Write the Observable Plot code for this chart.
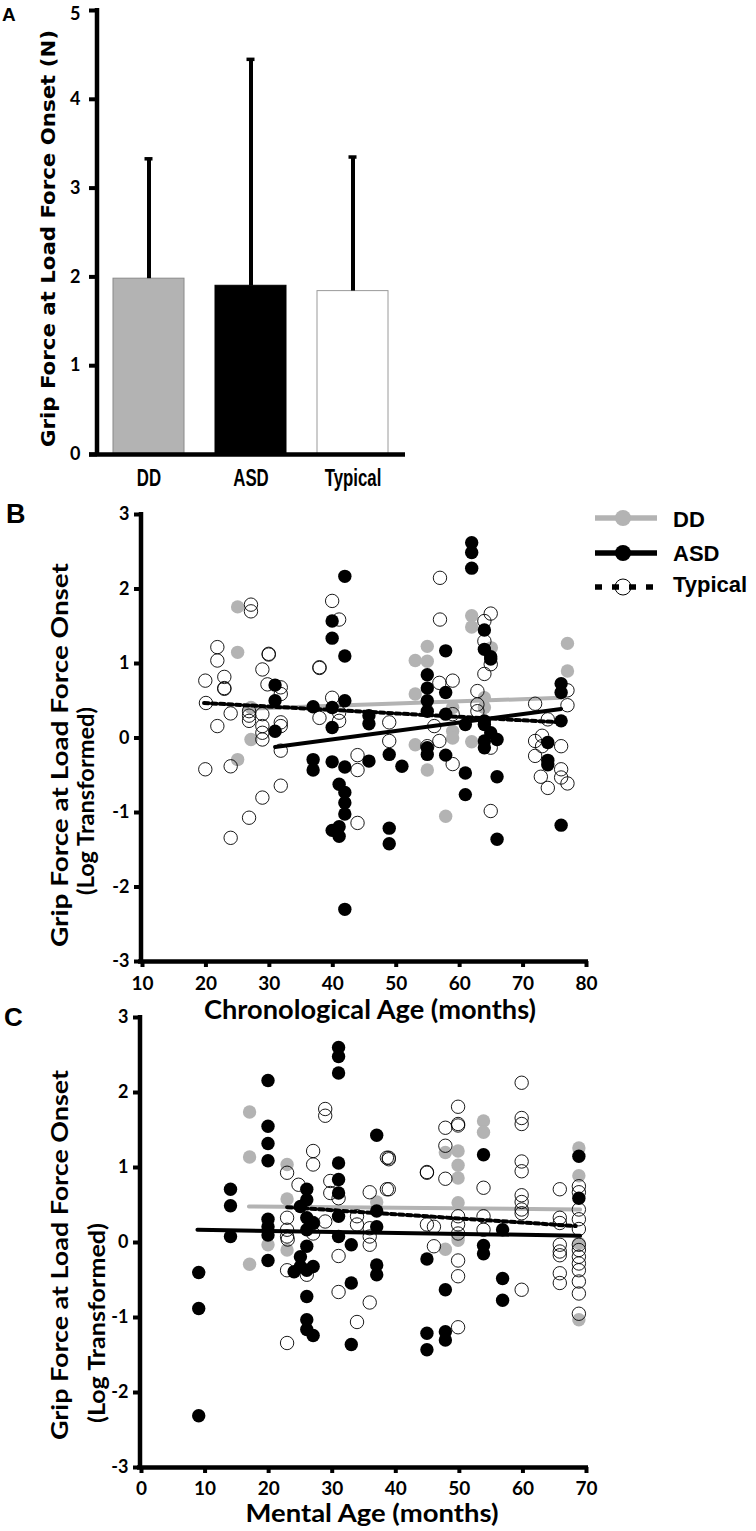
<!DOCTYPE html>
<html><head><meta charset="utf-8">
<script src="https://cdn.jsdelivr.net/npm/d3@7"></script>
<script src="https://cdn.jsdelivr.net/npm/@observablehq/plot@0.6"></script>
<style>
body{margin:0;background:#fff;}
#root{position:relative;width:756px;height:1531px;overflow:hidden;background:#fff;}
.panel{position:absolute;left:0;}
</style></head><body><div id="root"></div>
<script>
// ---------------- DATA ----------------
const groups = ["DD", "ASD", "Typical"];
const barMeans = [1.98, 1.90, 1.84];
const barSDs = [1.35, 2.55, 1.51];
const yTicksA = [0, 1, 2, 3, 4, 5];
const yTicksBC = [-3, -2, -1, 0, 1, 2, 3];
const xTicksB = [10, 20, 30, 40, 50, 60, 70, 80];
const xTicksC = [0, 10, 20, 30, 40, 50, 60, 70];

// Panel B: [chronological age (months), log grip force]
const ddChrono = [[25,1.76],[25,1.15],[27.1,0.41],[27.1,-0.02],[25,-0.29],[61.9,1.64],[61.9,1.49],[54.9,1.23],[53,1.04],[54.9,1.03],[53,0.59],[65,1.21],[77,1.27],[77,0.9],[53,-0.09],[54.9,-0.43],[58.9,0.41],[58.9,0.09],[58.9,0.0],[61.9,-0.05],[57.8,-1.05],[63.9,0.54],[63.9,0.41]];
const asdChrono = [[41.9,2.17],[39.9,1.57],[39.9,1.34],[41.9,1.1],[30.9,0.71],[30.9,0.5],[30.9,0.09],[36.9,0.42],[39.9,0.41],[41.9,0.5],[39.9,0.14],[45.7,0.3],[45.7,0.19],[36.9,-0.29],[36.9,-0.43],[39.9,-0.32],[41.9,-0.39],[45.7,-0.31],[41,-0.62],[41.9,-0.73],[41.9,-0.87],[41.9,-1.02],[39.9,-1.24],[41,-1.19],[41,-1.32],[41.9,-2.3],[48.9,-0.22],[48.9,-1.21],[48.9,-1.42],[61.9,2.62],[61.9,2.49],[61.9,2.28],[57.8,1.17],[63.9,1.45],[63.9,1.19],[64.9,1.09],[64.9,1.06],[54.9,0.85],[54.9,0.67],[54.9,0.5],[54.9,0.36],[57.8,0.61],[57.8,0.32],[60.9,0.18],[63.9,0.23],[63.9,0.18],[64.9,0.07],[65.9,-0.02],[63.9,-0.04],[63.9,-0.13],[54.9,-0.13],[54.9,-0.22],[57.8,-0.23],[50.9,-0.38],[60.9,-0.47],[60.9,-0.76],[65.9,-0.52],[65.9,-1.36],[76,0.73],[76,0.61],[76,0.23],[73.9,-0.06],[73.9,-0.3],[73.9,-0.36],[76,-1.17]];
const typChrono = [[27.1,1.79],[27.1,1.7],[21.8,1.22],[21.8,1.04],[19.9,0.77],[22.9,0.82],[22.9,0.67],[22.9,0.66],[20,0.47],[23.9,0.33],[21.8,0.16],[19.9,-0.42],[23.9,-0.38],[26.8,-1.07],[23.9,-1.34],[28.9,-0.8],[31.8,-0.64],[29.9,1.13],[29.9,1.12],[28.9,0.92],[29.7,0.72],[31.8,0.68],[31.8,0.59],[26.8,0.36],[26.8,0.3],[26.8,0.23],[28.9,0.32],[28.9,0.16],[28.9,0.07],[28.9,-0.02],[31.8,0.21],[31.8,0.16],[31.8,-0.17],[37.9,0.94],[37.9,0.95],[39.9,1.84],[41,1.59],[39.9,0.54],[37.9,0.27],[41,0.23],[41,0.34],[43.9,-0.23],[43.9,-0.43],[43.9,-1.14],[56.9,2.15],[56.9,1.59],[64.9,1.67],[63.9,1.57],[63.9,1.3],[64.9,0.99],[63.9,0.86],[58.9,0.77],[56.8,0.74],[62.8,0.63],[62.8,0.45],[62.8,0.36],[58.9,0.32],[56,0.16],[56.8,-0.04],[54.9,-0.11],[58.9,-0.35],[64.9,-0.13],[64.9,-0.98],[48.9,0.21],[48.9,-0.04],[71.9,0.46],[77,0.64],[77,0.44],[73.9,0.25],[71.9,-0.04],[73,0.03],[73,-0.11],[71.9,-0.24],[76,-0.11],[76,-0.42],[72.8,-0.52],[73.9,-0.67],[76,-0.53],[77,-0.61]];
// regression fit end points, panel B
const fitDDChrono = [[26,0.39],[76,0.54]];
const fitASDChrono = [[30.9,-0.12],[76,0.39]];
const fitTypChrono = [[19.7,0.47],[76,0.21]];

// Panel C: [mental age (months), log grip force]
const ddMental = [[17,1.74],[17,1.14],[17,-0.29],[22.9,1.04],[22.9,0.58],[19.9,-0.03],[22.9,-0.1],[37,0.54],[53.8,1.62],[53.8,1.47],[47.8,1.2],[49.8,1.22],[49.8,1.03],[49.8,0.86],[49.8,0.53],[49.8,0.08],[49.8,0.03],[47.8,-0.09],[68.8,1.26],[68.8,0.89],[68.8,-0.01],[68.8,-1.03]];
const asdMental = [[31,2.6],[31,2.48],[31,2.26],[19.9,2.16],[19.9,1.55],[19.9,1.32],[19.9,1.09],[37,1.43],[14,0.71],[14,0.49],[14,0.08],[19.9,0.31],[19.9,0.21],[19.9,0.1],[19.9,-0.24],[9,-0.4],[9,-0.88],[9,-2.31],[31,1.06],[31,0.84],[31,0.66],[31,0.35],[31,0.08],[26,0.71],[26,0.57],[25,0.48],[26,0.33],[27,0.26],[26,0.17],[26,-0.05],[25,-0.19],[25,-0.32],[24,-0.39],[26,-0.37],[27,-0.32],[26,-0.72],[26,-1.03],[26,-1.16],[27,-1.24],[33,-0.03],[33,-0.54],[33,-1.36],[37,0.42],[37,0.21],[37,-0.3],[37,-0.43],[53.8,1.17],[68.8,1.15],[68.8,0.59],[56.8,0.17],[53.8,-0.04],[53.8,-0.15],[44.9,-0.22],[47.8,-0.63],[56.8,-0.48],[56.8,-0.77],[44.9,-1.21],[44.9,-1.43],[47.8,-1.19],[47.8,-1.3]];
const typMental = [[28.9,1.78],[28.9,1.69],[27,1.22],[27,1.04],[22.9,0.93],[24.7,0.77],[29.7,0.82],[29.7,0.66],[31,0.59],[35.9,0.67],[38.6,1.13],[38.6,0.71],[22.9,0.33],[22.9,0.17],[22.9,0.08],[23,0.04],[27,0.12],[27,0.26],[28.9,0.28],[33.9,0.24],[33.9,0.35],[35.9,0.19],[35.9,0.08],[35.9,-0.03],[31,-0.18],[22.9,-0.37],[26,-0.43],[31,-0.66],[35.9,-0.8],[33.9,-1.06],[22.9,-1.34],[59.8,2.13],[59.8,1.66],[59.8,1.58],[49.8,1.81],[49.8,1.58],[49.8,1.56],[47.8,1.53],[47.8,1.29],[38.9,1.13],[38.9,1.11],[38.9,0.71],[44.9,0.94],[44.9,0.93],[47.8,0.85],[53.8,0.73],[59.8,1.08],[59.8,0.95],[59.8,0.63],[59.8,0.54],[59.8,0.44],[59.8,0.39],[65.8,0.71],[65.8,0.33],[65.8,0.26],[44.9,0.24],[46,0.21],[46,-0.05],[49.8,0.35],[49.8,0.24],[49.8,0.12],[49.8,-0.24],[49.8,-0.45],[49.8,-1.13],[53.8,0.35],[53.8,0.17],[59.8,-0.63],[65.8,-0.03],[65.8,-0.12],[65.8,-0.17],[65.8,-0.41],[65.8,-0.54],[68.8,0.75],[68.8,0.67],[68.8,0.44],[68.8,0.31],[68.8,0.18],[68.8,-0.03],[68.8,-0.1],[68.8,-0.19],[68.8,-0.28],[68.8,-0.37],[68.8,-0.52],[68.8,-0.68],[68.8,-0.95]];
// regression fit end points, panel C
const fitDDMental = [[16.9,0.48],[69,0.44]];
const fitASDMental = [[8.8,0.17],[69,0.09]];
const fitTypMental = [[22.9,0.47],[68.3,0.22]];

// ---------------- STYLE ----------------
const GRAY = "#b3b3b3";
const TICKFONT = "Lato, 'Open Sans', sans-serif";
const root = document.getElementById("root");
function place(el, top) {
  const d = document.createElement("div");
  d.className = "panel"; d.style.top = top + "px";
  d.appendChild(el); root.appendChild(d);
}
// heavy tick styling on a rendered plot (inline styles win over attributes)
function styleTicks(svg, ySize, xSize) {
  d3.select(svg).selectAll("g[aria-label]").each(function () {
    const lab = this.getAttribute("aria-label") || "";
    if (/tick label/.test(lab)) {
      const size = /^x/.test(lab) ? xSize : ySize;
      d3.select(this).selectAll("text").style("font-size", size + "px").style("font-weight", "700").style("font-family", TICKFONT);
    } else if (/axis tick$/.test(lab)) {
      d3.select(this).style("stroke-width", "4px").style("stroke", "#000");
      d3.select(this).selectAll("path,line").style("stroke-width", "4px").style("stroke", "#000");
    }
  });
}

// ---------------- PANEL A ----------------
const barData = groups.map((g, i) => ({group: g, mean: barMeans[i], top: barMeans[i] + barSDs[i]}));
const barFill = {DD: GRAY, ASD: "#000000", Typical: "#ffffff"};
const barStroke = {DD: "#8a8a8a", ASD: "#000000", Typical: "#9a9a9a"};
const plotA = Plot.plot({
  width: 420, height: 500, marginLeft: 97, marginRight: 15, marginTop: 10, marginBottom: 46,
  style: {fontFamily: TICKFONT, fontWeight: "bold", color: "#000", background: "transparent", overflow: "visible"},
  x: {domain: groups, paddingInner: 0.3, paddingOuter: 0.15},
  y: {domain: [0, 5]},
  marks: [
    ...groups.map(g => Plot.barY(barData.filter(d => d.group === g), {x: "group", y: "mean", fill: barFill[g], stroke: barStroke[g], strokeWidth: 1})),
    Plot.ruleX(barData, {x: "group", y1: "mean", y2: "top", strokeWidth: 4, stroke: "#000"}),
    Plot.tickY(barData, {x: "group", y: "top", strokeWidth: 3.5, stroke: "#000", insetLeft: 31.5, insetRight: 31.5}),
    Plot.ruleY([0], {strokeWidth: 4.5, stroke: "#000", insetLeft: -8}),
    Plot.axisY({ticks: yTicksA, tickSize: 8, tickPadding: 9, strokeWidth: 4, fontSize: 18, label: null, tickFormat: d => String(d)}),
    Plot.axisX({tickSize: 0, tickPadding: 14, fontSize: 24, label: null})
  ]
});
{
  const ys = plotA.scale("y"), xs = plotA.scale("x");
  d3.select(plotA).append("line")
    .attr("x1", xs.range[0]).attr("x2", xs.range[0])
    .attr("y1", ys.apply(5) - 2).attr("y2", ys.apply(0) + 2)
    .attr("stroke", "#000").attr("stroke-width", 4.5);
}
place(plotA, 0);
styleTicks(plotA, 18, 24);
// top tick label sits just below its tick, as in the original (keeps it inside the page)
d3.select(plotA).selectAll('g[aria-label="y-axis tick label"] text').each(function () {
  if (this.textContent === String(yTicksA[yTicksA.length - 1])) {
    const t = d3.select(this);
    const tr = t.attr("transform") || "";
    t.attr("transform", tr + " translate(0,4)");
  }
});
// narrow, tall category labels (condensed like the original)
d3.select(plotA).selectAll('g[aria-label="x-axis tick label"] text').each(function () {
  const t = d3.select(this);
  t.style("font-size", "24px").style("font-family", "'Liberation Sans', Arial, sans-serif").style("font-weight", "700");
  const w = this.getComputedTextLength();
  t.attr("textLength", w * 0.7).attr("lengthAdjust", "spacingAndGlyphs");
});

// ---------------- SCATTER PANELS ----------------
function scatter({dd, asd, typ, fitDD, fitASD, fitTyp, xDomain, xTicks, top, height, marginTop, marginBottom, marginLeft, xPad}) {
  const px = d => d[0], py = d => d[1];
  const p = Plot.plot({
    width: 756, height, marginLeft, marginRight: 170, marginTop, marginBottom,
    style: {fontFamily: TICKFONT, fontWeight: "bold", color: "#000", background: "transparent", overflow: "visible"},
    x: {domain: xDomain},
    y: {domain: [-3, 3]},
    marks: [
      Plot.dot(dd, {x: px, y: py, r: 6.7, fill: GRAY, stroke: "none"}),
      Plot.line(fitDD, {x: px, y: py, stroke: GRAY, strokeWidth: 4}),
      Plot.line(fitTyp, {x: px, y: py, stroke: "#000", strokeWidth: 4, strokeDasharray: "4.5,3.5"}),
      Plot.line(fitASD, {x: px, y: py, stroke: "#000", strokeWidth: 4}),
      Plot.dot(asd, {x: px, y: py, r: 6.7, fill: "#000", stroke: "none"}),
      Plot.dot(typ, {x: px, y: py, r: 6.7, fill: "none", stroke: "#000", strokeWidth: 0.9}),
      Plot.ruleX([xDomain[0]], {strokeWidth: 4.5, stroke: "#000", dx: -1.5, insetTop: -2, insetBottom: -2}),
      Plot.ruleY([-3], {strokeWidth: 4.5, stroke: "#000", insetLeft: -4, insetRight: -2}),
      Plot.axisY({ticks: yTicksBC, tickSize: 8, tickPadding: 5, strokeWidth: 4, fontSize: 18, label: null, tickFormat: d => String(d)}),
      Plot.axisX({ticks: xTicks, tickSize: 6, tickPadding: xPad, strokeWidth: 4, fontSize: 19, label: null, tickFormat: d => String(d)})
    ]
  });
  place(p, top);
  styleTicks(p, 18, 19);
  return p;
}
scatter({dd: ddChrono, asd: asdChrono, typ: typChrono, fitDD: fitDDChrono, fitASD: fitASDChrono, fitTyp: fitTypChrono,
  xDomain: [10, 80], xTicks: xTicksB, top: 500, height: 540, marginTop: 14, marginBottom: 79, marginLeft: 142, xPad: 9});
scatter({dd: ddMental, asd: asdMental, typ: typMental, fitDD: fitDDMental, fitASD: fitASDMental, fitTyp: fitTypMental,
  xDomain: [0, 70], xTicks: xTicksC, top: 1010, height: 521, marginTop: 7, marginBottom: 64, marginLeft: 141, xPad: 8});

// ---------------- TITLES, LETTERS, LEGEND ----------------
const ov = d3.select(root).append("svg")
  .attr("width", 756).attr("height", 1531)
  .style("position", "absolute").style("left", 0).style("top", 0).style("pointer-events", "none");
function txt(s, x, y, o = {}) {
  const t = ov.append("text").text(s)
    .attr("font-family", o.family || "Lato, sans-serif")
    .attr("font-weight", "bold")
    .attr("font-size", o.size || 20)
    .attr("fill", "#000")
    .attr("text-anchor", o.anchor || "start");
  if (o.length) t.attr("textLength", o.length).attr("lengthAdjust", "spacingAndGlyphs");
  if (o.rotate) t.attr("transform", `translate(${x},${y}) rotate(-90)`);
  else t.attr("x", x).attr("y", y);
  return t;
}
const LIB = "'Liberation Sans', Arial, sans-serif";
txt("A", 2, 21, {family: LIB, size: 19});
txt("B", 6, 523, {family: LIB, size: 27});
txt("C", 4, 1026, {family: LIB, size: 26});

txt("Grip Force at Load Force Onset (N)", 55, 238.5, {family: "'DejaVu Sans', Verdana, sans-serif", size: 19, rotate: true, anchor: "middle", length: 417});

txt("Grip Force at Load Force Onset", 68, 755, {size: 23, rotate: true, anchor: "middle", length: 384});
txt("(Log Transformed)", 94, 801, {size: 23, rotate: true, anchor: "middle", length: 188});
txt("Chronological Age (months)", 370, 1019, {size: 26, anchor: "middle", length: 332});

txt("Grip Force at Load Force Onset", 68, 1255, {size: 23, rotate: true, anchor: "middle", length: 370});
txt("(Log Transformed)", 105, 1323, {size: 23, rotate: true, anchor: "middle", length: 200});
txt("Mental Age (months)", 372, 1522, {size: 24, anchor: "middle", length: 253});

// legend
const legendItems = [
  {label: groups[0], y: 518, stroke: GRAY, dash: null, fill: GRAY, mstroke: "none", ty: 527},
  {label: groups[1], y: 553, stroke: "#000", dash: null, fill: "#000", mstroke: "none", ty: 561},
  {label: groups[2], y: 587, stroke: "#000", dash: "7,10", fill: "none", mstroke: "#000", ty: 592}
];
legendItems.forEach(it => {
  const l = ov.append("line").attr("x1", 595).attr("x2", 657).attr("y1", it.y).attr("y2", it.y)
    .attr("stroke", it.stroke).attr("stroke-width", 5.5);
  if (it.dash) l.attr("stroke-dasharray", it.dash);
  ov.append("circle").attr("cx", 623).attr("cy", it.y).attr("r", 8)
    .attr("fill", it.fill).attr("stroke", it.mstroke).attr("stroke-width", 1);
  txt(it.label, 673, it.ty, {family: LIB, size: 22});
});
</script></body></html>
